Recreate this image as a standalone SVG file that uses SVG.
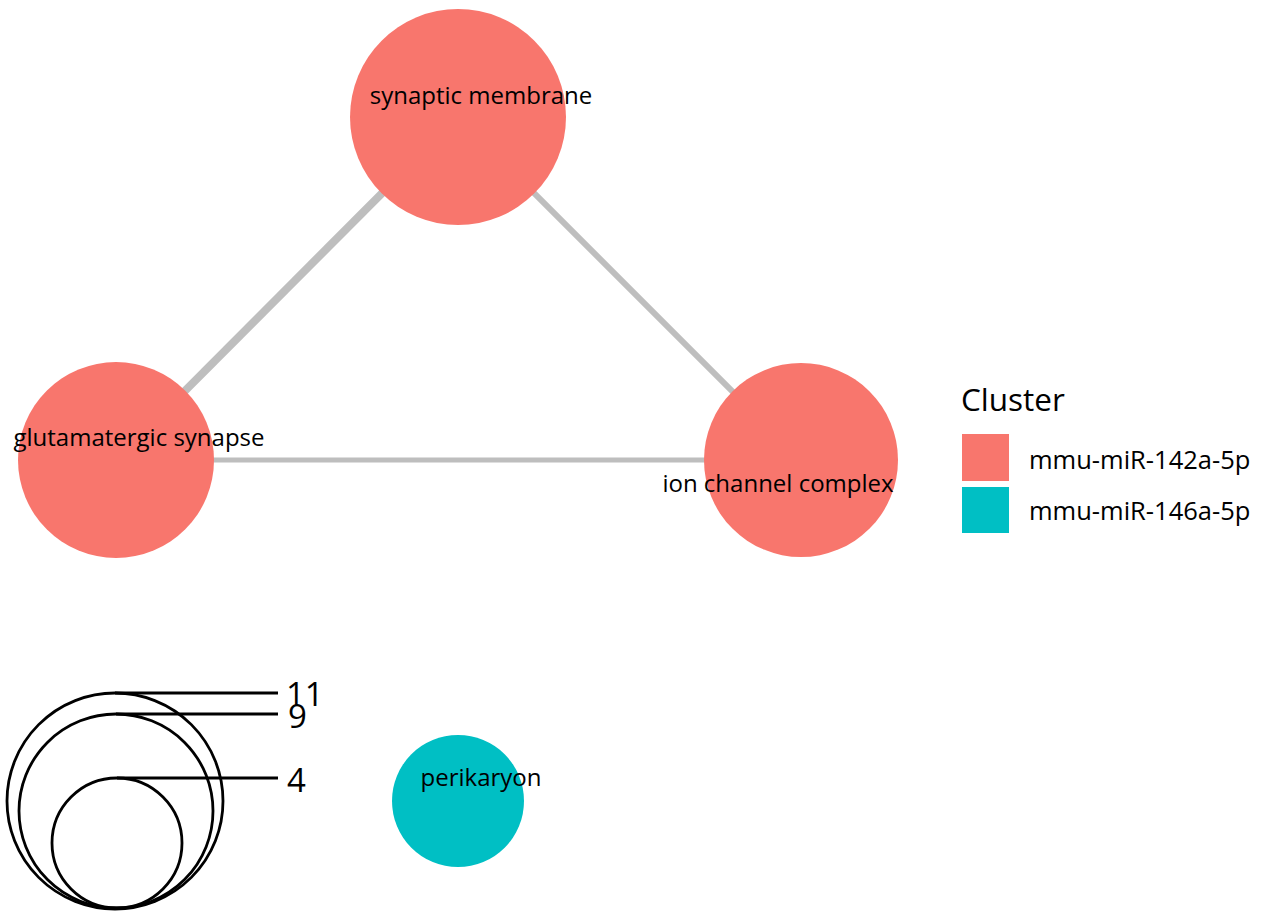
<svg xmlns="http://www.w3.org/2000/svg" width="1263" height="911" viewBox="0 0 1263 911">
<style>
text{font-family:"Open Sans","Noto Sans","DejaVu Sans",sans-serif;fill:#000}
.lbl{font-size:24px;text-anchor:middle}
.red{fill:#F8766D}
.teal{fill:#00BFC4}
.edge{stroke:#BEBEBE;fill:none}
.sz{fill:none;stroke:#000;stroke-width:2.8}
.szt{font-size:33px}
.leg{font-size:25.5px}
</style>
<rect width="1263" height="911" fill="#fff"/>
<g id="edges">
<line class="edge" x1="458" y1="117" x2="116" y2="460" stroke-width="8"/>
<line class="edge" x1="458" y1="117" x2="801" y2="460" stroke-width="6"/>
<line class="edge" x1="116" y1="460" x2="801" y2="460" stroke-width="5"/>
</g>
<g id="synaptic_membrane"><circle class="red" cx="458" cy="117" r="108"/><text class="lbl" x="481" y="104">synaptic membrane</text></g>
<g id="glutamatergic_synapse"><circle class="red" cx="116" cy="460" r="98"/><text class="lbl" x="139" y="446">glutamatergic synapse</text></g>
<g id="ion_channel_complex"><circle class="red" cx="801" cy="460" r="97"/><text class="lbl" x="778" y="492">ion channel complex</text></g>
<g id="perikaryon"><circle class="teal" cx="458" cy="801" r="66"/><text class="lbl" x="481" y="786">perikaryon</text></g>
<g id="legend-cluster">
<text x="961" y="411" font-size="31.5">Cluster</text>
<rect class="red" x="962" y="434" width="47" height="47"/>
<rect class="teal" x="962" y="487" width="47" height="46"/>
<text class="leg" x="1029" y="469">mmu-miR-142a-5p</text>
<text class="leg" x="1029" y="520">mmu-miR-146a-5p</text>
</g>
<g id="legend-size">
<circle class="sz" cx="115" cy="801" r="108"/>
<circle class="sz" cx="116" cy="811" r="97"/>
<circle class="sz" cx="117" cy="843" r="65"/>
<line class="sz" x1="115" y1="693" x2="278" y2="693"/>
<line class="sz" x1="116" y1="714" x2="278" y2="714"/>
<line class="sz" x1="117" y1="778" x2="278" y2="778"/>
<text class="szt" x="286" y="706">11</text>
<text class="szt" x="288" y="728">9</text>
<text class="szt" x="287" y="792">4</text>
</g>
</svg>
